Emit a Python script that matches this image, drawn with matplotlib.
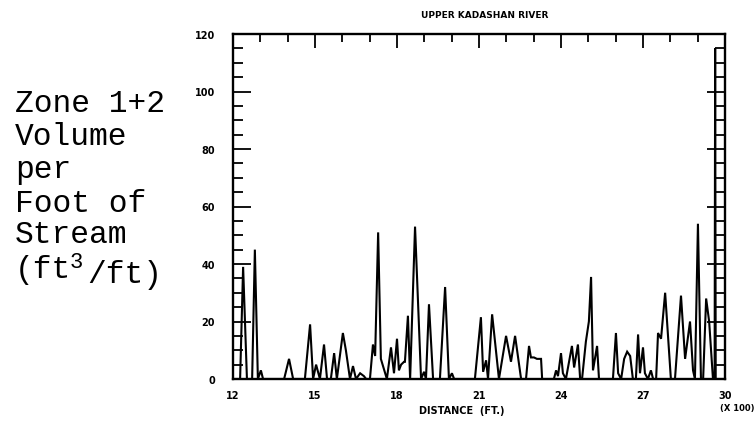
import matplotlib
matplotlib.use("Agg")
import matplotlib.pyplot as plt
from matplotlib.ticker import MultipleLocator

# ---- data (distance in hundreds of ft, volume ft3/ft) ----
distance = [12.00, 12.26, 12.37, 12.51, 12.70, 12.80, 12.91, 13.02, 13.10,
            13.87, 14.05, 14.20,
            14.63, 14.82, 14.93, 15.04, 15.18, 15.33, 15.44, 15.58, 15.70, 15.80,
            16.02, 16.13, 16.28, 16.39, 16.50, 16.65, 16.79, 16.87, 17.01, 17.12,
            17.20, 17.31, 17.41, 17.63, 17.78, 17.89, 18.00, 18.07, 18.15, 18.26,
            18.29, 18.40, 18.48, 18.66, 18.88, 18.99, 19.06, 19.17, 19.32, 19.57,
            19.76, 19.90, 20.01, 20.09,
            20.85, 21.07, 21.15, 21.26, 21.33, 21.48, 21.73, 21.99, 22.17, 22.32,
            22.54, 22.72, 22.83, 22.90, 23.01, 23.12, 23.23, 23.27, 23.31,
            23.74, 23.82, 23.89, 24.00, 24.07, 24.18, 24.40, 24.48, 24.62, 24.70,
            24.77, 24.91, 25.02, 25.10, 25.17, 25.32, 25.39,
            25.90, 26.01, 26.09, 26.20, 26.31, 26.42, 26.53, 26.63, 26.74, 26.82,
            26.89, 27.00, 27.07, 27.18, 27.29, 27.37, 27.48, 27.55, 27.66, 27.81,
            28.02, 28.17, 28.39, 28.54, 28.72, 28.83, 28.90, 29.01, 29.12, 29.20,
            29.31, 29.42, 29.49, 29.56, 29.62, 29.64, 29.66, 30.00]
volume = [0, 0, 39, 0, 0, 45, 0, 3, 0,
          0, 7, 0,
          0, 19, 0, 5, 0, 12, 0, 0, 9, 0,
          16, 10, 0, 4.5, 0, 2, 1, 0, 0, 12,
          8, 51, 7, 0, 11, 2, 14, 3, 5, 6,
          6, 22, 0, 53, 0, 2.5, 0, 26, 0, 0,
          32, 0, 2, 0,
          0, 21.5, 2.5, 6.5, 0, 22.5, 0, 15, 6, 15,
          0, 0, 11.5, 7.5, 7.5, 7, 7, 7, 0,
          0, 3, 1, 9, 2, 0, 11.5, 4, 12, 0,
          0, 13, 20, 35.5, 3, 11.5, 0,
          0, 16, 2, 0, 7, 9.5, 8, 0, 0, 15.5,
          2, 11, 2, 0, 3, 0, 0, 16, 14, 30,
          0, 0, 29, 7, 20, 3, 0, 54, 0, 0,
          28, 20, 10, 0, 0, 115, 0, 0]

x_ticks = [12, 15, 18, 21, 24, 27, 30]
y_ticks = [0, 20, 40, 60, 80, 100, 120]
title = "UPPER KADASHAN RIVER"
xlabel = "DISTANCE  (FT.)"
ylabel_lines = ["Zone 1+2", "Volume", "per", "Foot of", "Stream"]

W, H = 755, 427
fig = plt.figure(figsize=(W / 100, H / 100), dpi=100)
ax = fig.add_axes([233 / W, 1 - 380 / H, (725 - 233) / W, (380 - 35) / H])

ax.plot(distance, volume, color="black", lw=1.5, solid_joinstyle="miter")
ax.set_xlim(12, 30)
ax.set_ylim(0, 120)

for s in ax.spines.values():
    s.set_linewidth(1.7)

ax.xaxis.set_minor_locator(MultipleLocator(1))
ax.yaxis.set_minor_locator(MultipleLocator(5))
ax.set_xticks(x_ticks)
ax.set_yticks(y_ticks)

tickfont = dict(family="DejaVu Sans", weight="bold", size=7)
ax.set_xticklabels([str(t) for t in x_ticks], fontdict=tickfont)
ax.set_yticklabels([str(t) for t in y_ticks], fontdict=tickfont)

ax.tick_params(axis="x", which="both", top=True, bottom=False,
               labelbottom=True, labeltop=False, direction="in", width=1.3)
ax.tick_params(axis="x", which="major", length=10, pad=8)
ax.tick_params(axis="x", which="minor", length=6)
ax.tick_params(axis="y", which="both", left=True, right=True,
               direction="in", width=1.3)
ax.tick_params(axis="y", which="major", length=13, pad=13)
ax.tick_params(axis="y", which="minor", length=7.5)

def ftext(x, y, s, **kw):
    fig.text(x / W, 1 - y / H, s, **kw)

ftext(485, 15, title, ha="center", va="center", family="DejaVu Sans",
      weight="bold", size=6.5)
ftext(462, 411, xlabel, ha="center", va="center", family="DejaVu Sans",
      weight="bold", size=7)
ftext(737, 409, "(X 100)", ha="center", va="center", family="DejaVu Sans",
      weight="bold", size=6)

mono = dict(family="Liberation Mono", size=22.5, ha="left", va="baseline")
baselines = [112, 145, 178, 212, 243]
for line, b in zip(ylabel_lines, baselines):
    ftext(15, b, line, **mono)
ftext(15, 278, "(ft", **mono)
ftext(70, 268, "3", family="Liberation Mono", size=16, ha="left", va="baseline")
ftext(87, 283, "/ft)", **mono)

fig.savefig("out.png", dpi=100)
